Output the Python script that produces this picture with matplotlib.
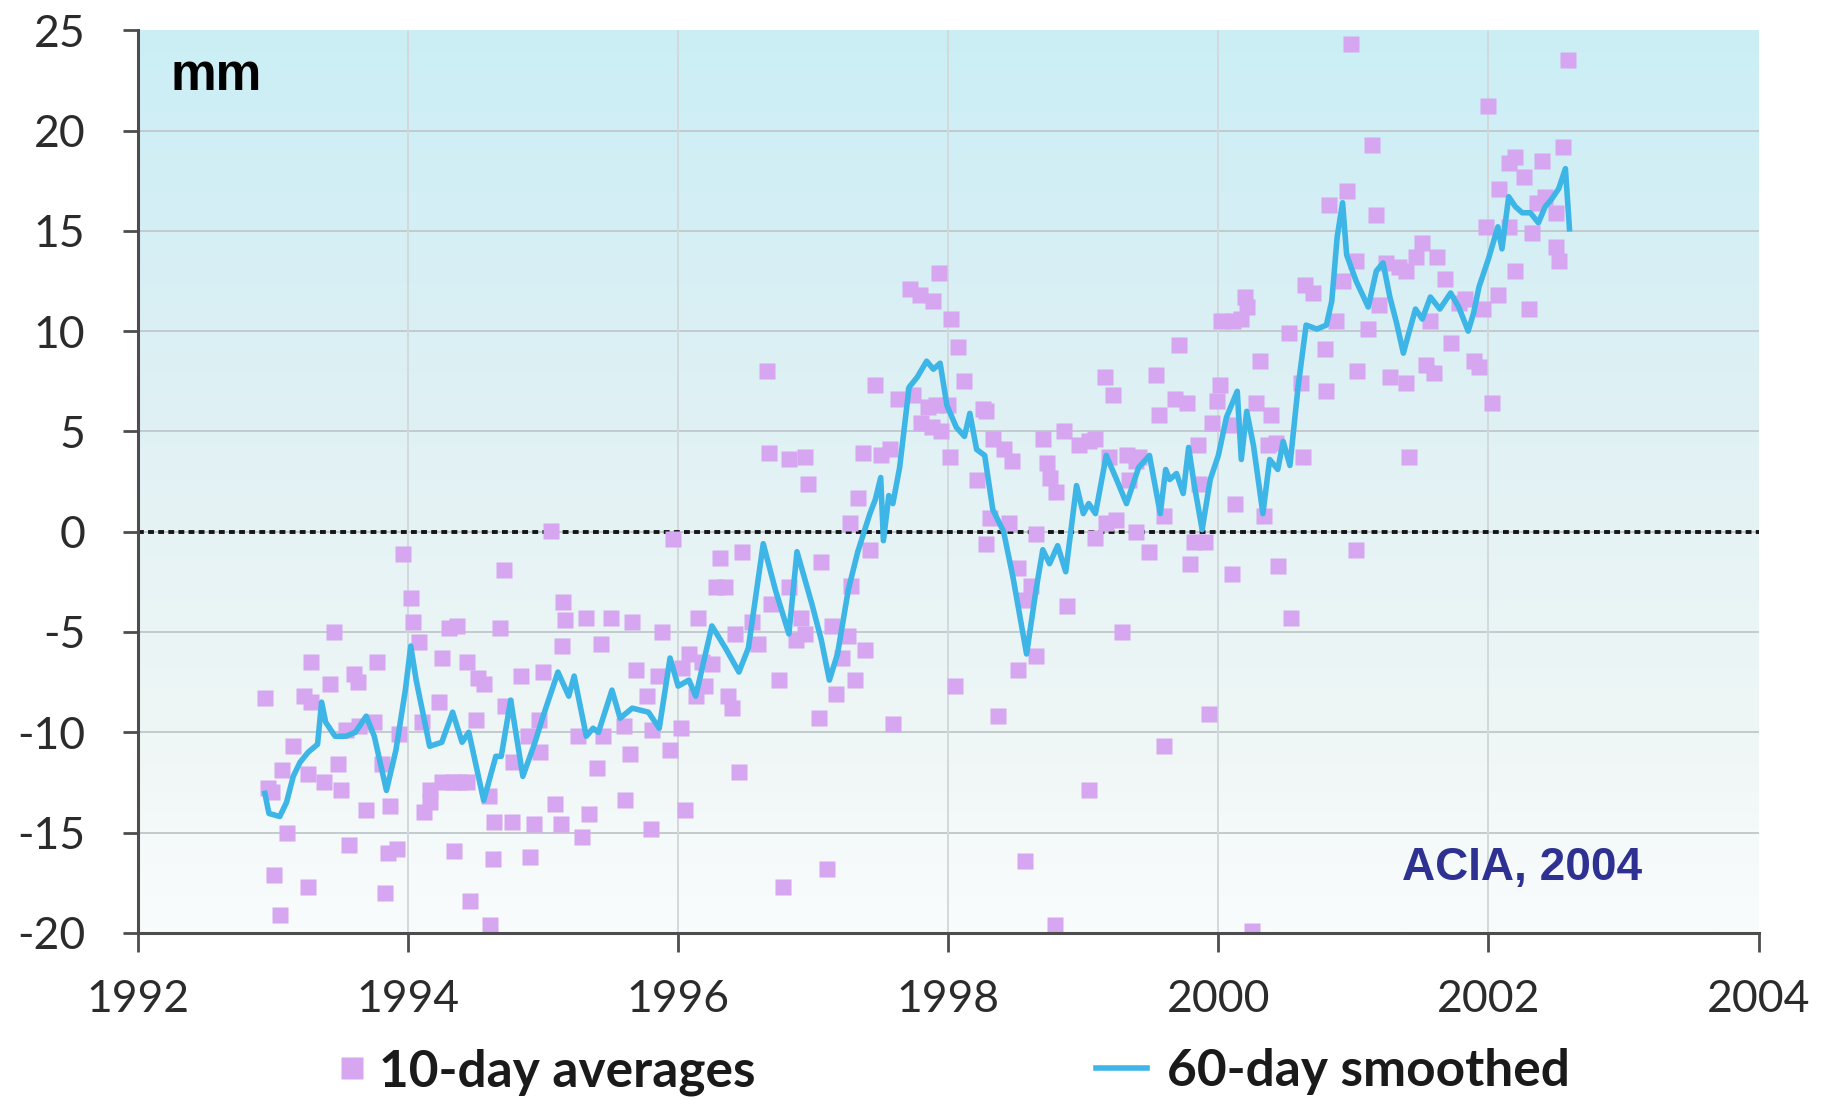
import numpy as np
import matplotlib
matplotlib.use("Agg")
import matplotlib.pyplot as plt
from matplotlib.colors import LinearSegmentedColormap

plt.rcParams['font.family'] = ['Lato', 'DejaVu Sans']
plt.rcParams['axes.unicode_minus'] = False

# ---------------- data ----------------
avg_year = [
    1992.94, 1992.96, 1992.99, 1993.01, 1993.05, 1993.07, 1993.10, 1993.15, 1993.23, 1993.26,
    1993.26, 1993.28, 1993.28, 1993.38, 1993.42, 1993.45, 1993.48, 1993.50, 1993.54, 1993.56,
    1993.60, 1993.63, 1993.64, 1993.69, 1993.75, 1993.77, 1993.81, 1993.83, 1993.85, 1993.87,
    1993.92, 1993.93, 1993.96, 1994.02, 1994.04, 1994.08, 1994.10, 1994.12, 1994.16, 1994.16,
    1994.23, 1994.25, 1994.25, 1994.30, 1994.33, 1994.34, 1994.36, 1994.38, 1994.44, 1994.44,
    1994.46, 1994.50, 1994.52, 1994.56, 1994.60, 1994.61, 1994.63, 1994.64, 1994.68, 1994.71,
    1994.72, 1994.77, 1994.78, 1994.84, 1994.89, 1994.90, 1994.93, 1994.97, 1994.98, 1995.00,
    1995.06, 1995.09, 1995.13, 1995.14, 1995.15, 1995.16,
    1995.26, 1995.29, 1995.32, 1995.34, 1995.40, 1995.43, 1995.44, 1995.50, 1995.60, 1995.61,
    1995.64, 1995.66, 1995.69, 1995.77, 1995.80, 1995.81, 1995.85, 1995.88, 1995.94, 1995.96,
    1996.02, 1996.03, 1996.05, 1996.08, 1996.13, 1996.15, 1996.18, 1996.20, 1996.25, 1996.28,
    1996.31, 1996.35, 1996.37, 1996.40, 1996.42, 1996.45, 1996.47, 1996.55, 1996.59, 1996.66,
    1996.67, 1996.69, 1996.75, 1996.78, 1996.82, 1996.82, 1996.87, 1996.91, 1996.94, 1996.94,
    1996.96, 1997.04, 1997.06, 1997.10, 1997.14, 1997.17, 1997.21, 1997.26, 1997.27, 1997.28,
    1997.31, 1997.33, 1997.37, 1997.38,
    1997.42, 1997.46, 1997.50, 1997.57, 1997.59, 1997.63, 1997.72, 1997.74, 1997.79, 1997.80,
    1997.85, 1997.88, 1997.89, 1997.91, 1997.93, 1997.95, 1998.00, 1998.01, 1998.02, 1998.05,
    1998.07, 1998.12, 1998.21, 1998.26, 1998.28, 1998.28, 1998.31, 1998.33, 1998.37, 1998.41,
    1998.45, 1998.47, 1998.52, 1998.52, 1998.57, 1998.57, 1998.61, 1998.65, 1998.65, 1998.70,
    1998.73, 1998.75, 1998.79, 1998.80, 1998.86, 1998.88, 1998.97, 1999.04, 1999.04, 1999.09,
    1999.09, 1999.16, 1999.17, 1999.19, 1999.22, 1999.24, 1999.29, 1999.32, 1999.34, 1999.39,
    1999.39, 1999.41, 1999.49, 1999.54, 1999.56, 1999.60, 1999.60,
    1999.68, 1999.71, 1999.77, 1999.79, 1999.82, 1999.85, 1999.86, 1999.90, 1999.93, 1999.95,
    1999.99, 2000.01, 2000.02, 2000.10, 2000.11, 2000.11, 2000.12, 2000.17, 2000.20, 2000.21,
    2000.25, 2000.28, 2000.31, 2000.34, 2000.37, 2000.39, 2000.43, 2000.44, 2000.52, 2000.54,
    2000.61, 2000.63, 2000.64, 2000.70, 2000.79, 2000.80, 2000.82, 2000.87, 2000.92, 2000.95,
    2000.98, 2001.02, 2001.02, 2001.03, 2001.11, 2001.14, 2001.17, 2001.19, 2001.24, 2001.27,
    2001.34, 2001.39, 2001.39, 2001.41, 2001.46, 2001.51, 2001.54, 2001.57, 2001.60, 2001.62,
    2001.68, 2001.72,
    2001.78, 2001.83, 2001.89, 2001.93, 2001.96, 2001.98, 2002.00, 2002.03, 2002.07, 2002.08,
    2002.15, 2002.15, 2002.20, 2002.20, 2002.26, 2002.30, 2002.32, 2002.36, 2002.40, 2002.42,
    2002.50, 2002.50, 2002.52, 2002.55, 2002.59,
]
avg_mm = [
    -8.3, -12.8, -13.0, -17.1, -19.1, -11.9, -15.0, -10.7, -8.2, -12.1,
    -17.7, -6.5, -8.5, -12.5, -7.6, -5.0, -11.6, -12.9, -9.9, -15.6,
    -7.1, -7.5, -9.7, -13.9, -9.5, -6.5, -11.6, -18.0, -16.0, -13.7,
    -15.8, -10.1, -1.1, -3.3, -4.5, -5.5, -9.5, -14.0, -12.9, -13.5,
    -8.5, -6.3, -12.5, -4.8, -12.5, -15.9, -4.7, -12.5, -6.5, -12.5,
    -18.4, -9.4, -7.3, -7.6, -13.2, -19.6, -16.3, -14.5, -4.8, -1.9,
    -8.7, -14.5, -11.5, -7.2, -10.2, -16.2, -14.6, -9.4, -11.0, -7.0,
    0.05, -13.6, -14.6, -5.7, -3.5, -4.4,
    -10.2, -15.2, -4.3, -14.1, -11.8, -5.6, -10.2, -4.3, -9.7, -13.4,
    -11.1, -4.5, -6.9, -8.2, -14.8, -9.9, -7.2, -5.0, -10.9, -0.35,
    -9.8, -6.8, -13.9, -6.1, -8.2, -4.3, -6.5, -7.7, -6.6, -2.75,
    -1.3, -2.75, -8.2, -8.8, -5.1, -12.0, -1.0, -4.5, -5.6, 8.0,
    3.9, -3.6, -7.4, -17.7, 3.6, -2.75, -5.4, -4.3, 3.7, -5.1,
    2.4, -9.3, -1.5, -16.8, -4.7, -8.1, -6.3, -5.2, 0.44, -2.7,
    -7.4, 1.7, 3.9, -5.9,
    -0.9, 7.3, 3.8, 4.1, -9.6, 6.6, 12.1, 6.8, 11.8, 5.4,
    6.2, 5.2, 11.5, 6.3, 12.9, 5.0, 6.3, 3.7, 10.6, -7.7,
    9.2, 7.5, 2.6, 6.1, 6.0, -0.6, 0.7, 4.6, -9.2, 4.1,
    0.45, 3.5, -1.8, -6.9, -3.4, -16.4, -2.7, -6.2, -0.1, 4.6,
    3.4, 2.7, -19.6, 2.0, 5.0, -3.7, 4.3, 4.5, -12.9, 4.6,
    -0.3, 7.7, 0.45, 3.7, 6.8, 0.6, -5.0, 3.8, 2.6, 3.5,
    0.0, 3.7, -1.0, 7.8, 5.8, -10.7, 0.8,
    6.6, 9.3, 6.4, -1.6, -0.5, 4.3, 2.4, -0.5, -9.1, 5.4,
    6.5, 7.3, 10.5, -2.1, 10.5, 5.3, 1.4, 10.6, 11.7, 11.2,
    -19.9, 6.4, 8.5, 0.8, 4.3, 5.8, 4.4, -1.7, 9.9, -4.3,
    7.4, 3.7, 12.3, 11.9, 9.1, 7.0, 16.3, 10.5, 12.5, 17.0,
    24.3, 13.5, -0.9, 8.0, 10.1, 19.3, 15.8, 11.3, 13.4, 7.7,
    13.2, 13.0, 7.4, 3.7, 13.7, 14.4, 8.3, 10.5, 7.9, 13.7,
    12.6, 9.4,
    11.4, 11.6, 8.5, 8.2, 11.1, 15.2, 21.2, 6.4, 11.8, 17.1,
    18.4, 15.2, 18.7, 13.0, 17.7, 11.1, 14.9, 16.4, 18.5, 16.7,
    15.9, 14.2, 13.5, 19.2, 23.5,
]

smooth_year = [
    1992.94, 1992.97, 1993.05, 1993.10, 1993.15, 1993.20, 1993.26, 1993.33, 1993.36, 1993.39,
    1993.46, 1993.54, 1993.61, 1993.69, 1993.75, 1993.84, 1993.91, 1993.98, 1994.02, 1994.06,
    1994.16, 1994.25, 1994.33, 1994.40, 1994.45, 1994.56, 1994.65, 1994.69, 1994.76, 1994.85,
    1994.94, 1995.00, 1995.11, 1995.19, 1995.23, 1995.32, 1995.37, 1995.41, 1995.51, 1995.57,
    1995.66, 1995.78, 1995.86, 1995.94, 1996.00, 1996.08, 1996.13, 1996.25, 1996.35, 1996.45,
    1996.52, 1996.63, 1996.72, 1996.82, 1996.88, 1996.99, 1997.06, 1997.12, 1997.18, 1997.26,
    1997.33, 1997.42, 1997.46, 1997.50, 1997.52, 1997.56, 1997.59, 1997.64, 1997.71, 1997.77,
    1997.84, 1997.89, 1997.94, 1997.99, 1998.06, 1998.12, 1998.16, 1998.21, 1998.27, 1998.33,
    1998.41, 1998.48, 1998.58, 1998.65, 1998.70, 1998.75, 1998.81, 1998.87, 1998.95, 1999.00,
    1999.04, 1999.09, 1999.17, 1999.24, 1999.32, 1999.41, 1999.49, 1999.57, 1999.61, 1999.64,
    1999.69, 1999.74, 1999.78, 1999.82, 1999.88, 1999.94, 2000.00, 2000.06, 2000.14, 2000.17,
    2000.21, 2000.26, 2000.33, 2000.38, 2000.44, 2000.48, 2000.53, 2000.59, 2000.65, 2000.73,
    2000.80, 2000.84, 2000.88, 2000.92, 2000.95, 2001.02, 2001.11, 2001.17, 2001.22, 2001.27,
    2001.32, 2001.37, 2001.41, 2001.46, 2001.51, 2001.57, 2001.64, 2001.72, 2001.78, 2001.85,
    2001.89, 2001.93, 2002.00, 2002.07, 2002.10, 2002.15, 2002.20, 2002.25, 2002.31, 2002.37,
    2002.42, 2002.47, 2002.52, 2002.57, 2002.60,
]
smooth_mm = [
    -13.05, -14.05, -14.2, -13.5, -12.2, -11.5, -11.0, -10.6, -8.5, -9.5,
    -10.2, -10.2, -10.0, -9.2, -10.2, -12.9, -10.9, -7.9, -5.7, -7.4,
    -10.7, -10.5, -9.0, -10.5, -10.0, -13.4, -11.2, -11.2, -8.4, -12.2,
    -10.5, -9.2, -7.0, -8.2, -7.2, -10.2, -9.8, -10.0, -7.9, -9.3,
    -8.8, -9.0, -9.8, -6.3, -7.7, -7.4, -8.2, -4.7, -5.8, -7.0,
    -5.8, -0.6, -2.9, -5.1, -1.0, -3.6, -5.4, -7.4, -6.1, -2.9,
    -1.0, 0.9, 1.6, 2.7, -0.45, 1.8, 1.4, 3.2, 7.2, 7.7,
    8.5, 8.1, 8.4, 6.3, 5.2, 4.75, 5.9, 4.1, 3.8, 1.1,
    0.0, -2.3, -6.1, -2.9, -0.9, -1.6, -0.7, -2.0, 2.3, 0.9,
    1.4, 0.9, 3.8, 2.7, 1.4, 3.2, 3.8, 0.9, 3.1, 2.6,
    2.9, 1.9, 4.2, 2.4, 0.1, 2.6, 3.8, 5.7, 7.0, 3.6,
    6.0, 4.3, 0.9, 3.6, 3.1, 4.5, 3.3, 7.2, 10.3, 10.1,
    10.3, 11.5, 14.7, 16.4, 13.8, 12.5, 11.2, 13.0, 13.4, 11.7,
    10.4, 8.9, 9.9, 11.1, 10.6, 11.7, 11.1, 11.9, 11.2, 10.0,
    10.9, 12.2, 13.6, 15.2, 14.1, 16.7, 16.2, 15.9, 15.9, 15.4,
    16.2, 16.6, 17.1, 18.1, 15.1,
]

x_ticks = [1992, 1994, 1996, 1998, 2000, 2002, 2004]
y_ticks = [-20, -15, -10, -5, 0, 5, 10, 15, 20, 25]
unit_label = "mm"
source_label = "ACIA, 2004"
series_labels = ["10-day averages", "60-day smoothed"]

# ---------------- figure ----------------
fig = plt.figure(figsize=(18.32, 11), dpi=100)
ax = fig.add_axes([0.0753, 0.152, 0.8846, 0.8205])
ax.set_facecolor("none")

# vertical background gradient (cyan at top -> white at bottom)
stops = [(0.0, (249, 252, 252)), (0.22, (239, 246, 246)), (0.44, (230, 243, 245)),
         (0.56, (224, 241, 244)), (0.78, (213, 239, 245)), (1.0, (203, 238, 246))]
cmap = LinearSegmentedColormap.from_list(
    "bg", [(p, tuple(c / 255 for c in col)) for p, col in stops])
grad = np.linspace(1, 0, 400).reshape(-1, 1)
ax.imshow(grad, cmap=cmap, vmin=0, vmax=1, aspect="auto", extent=(0, 1, 0, 1),
          transform=ax.transAxes, zorder=0, interpolation="bilinear")

ax.set_xlim(x_ticks[0], x_ticks[-1])
ax.set_ylim(y_ticks[0], y_ticks[-1])

# grid lines
ax.hlines(y_ticks[1:-1], x_ticks[0], x_ticks[-1], colors="#c3cacd", lw=1.4, zorder=1)
ax.vlines(x_ticks[1:-1], y_ticks[0], y_ticks[-1], colors="#d2d9dc", lw=1.4, zorder=1)
ax.axhline(0, color="#151515", lw=2.8, linestyle=(0, (1.5, 1.1)), zorder=2)

# data
pts, = ax.plot(avg_year, avg_mm, linestyle="none", marker="s", ms=12, color="#d6a6f1",
               mec="none", zorder=3, label=series_labels[0])
ln, = ax.plot(smooth_year, smooth_mm, color="#3db5e6", lw=4.0, zorder=4,
              solid_joinstyle="round", label=series_labels[1])

# axes styling
for s in ("top", "right"):
    ax.spines[s].set_visible(False)
for s in ("left", "bottom"):
    ax.spines[s].set_color("#4d4d4d")
    ax.spines[s].set_linewidth(2.2)
    ax.spines[s].set_zorder(5)

ax.set_xticks(x_ticks)
ax.set_yticks(y_ticks)
ax.tick_params(axis="y", direction="out", length=11, width=2, color="#4d4d4d",
               pad=27, labelsize=32, labelcolor="#2b2b2b")
ax.tick_params(axis="x", direction="out", length=14, width=2, color="#4d4d4d",
               pad=19, labelsize=32, labelcolor="#2b2b2b")

# annotations
ax.text(0.0198, 0.934, unit_label, transform=ax.transAxes, ha="left", va="baseline",
        fontsize=37, fontweight="bold", family=["Liberation Sans", "DejaVu Sans"],
        color="black", zorder=6)
ax.text(0.780, 0.058, source_label, transform=ax.transAxes, ha="left", va="baseline",
        fontsize=33, fontweight="bold", family=["Liberation Sans", "DejaVu Sans"],
        color="#2e3192", zorder=6)

# legend: two separate entries placed below the axis
leg_prop = {"weight": "bold", "size": 37}
leg1 = ax.legend(handles=[pts], loc="center left", bbox_to_anchor=(0.186, 0.0255),
                 bbox_transform=fig.transFigure, frameon=False, prop=leg_prop,
                 handlelength=0.45, handletextpad=0.3, borderpad=0, borderaxespad=0,
                 markerscale=1.3)
ax.add_artist(leg1)
leg2 = ax.legend(handles=[ln], loc="center left", bbox_to_anchor=(0.598, 0.0255),
                 bbox_transform=fig.transFigure, frameon=False, prop=leg_prop,
                 handlelength=1.0, handletextpad=0.4, borderpad=0, borderaxespad=0)
for lg in (leg1, leg2):
    for t in lg.get_texts():
        t.set_color("#1a1a1a")

fig.savefig("out.png", dpi=100)
